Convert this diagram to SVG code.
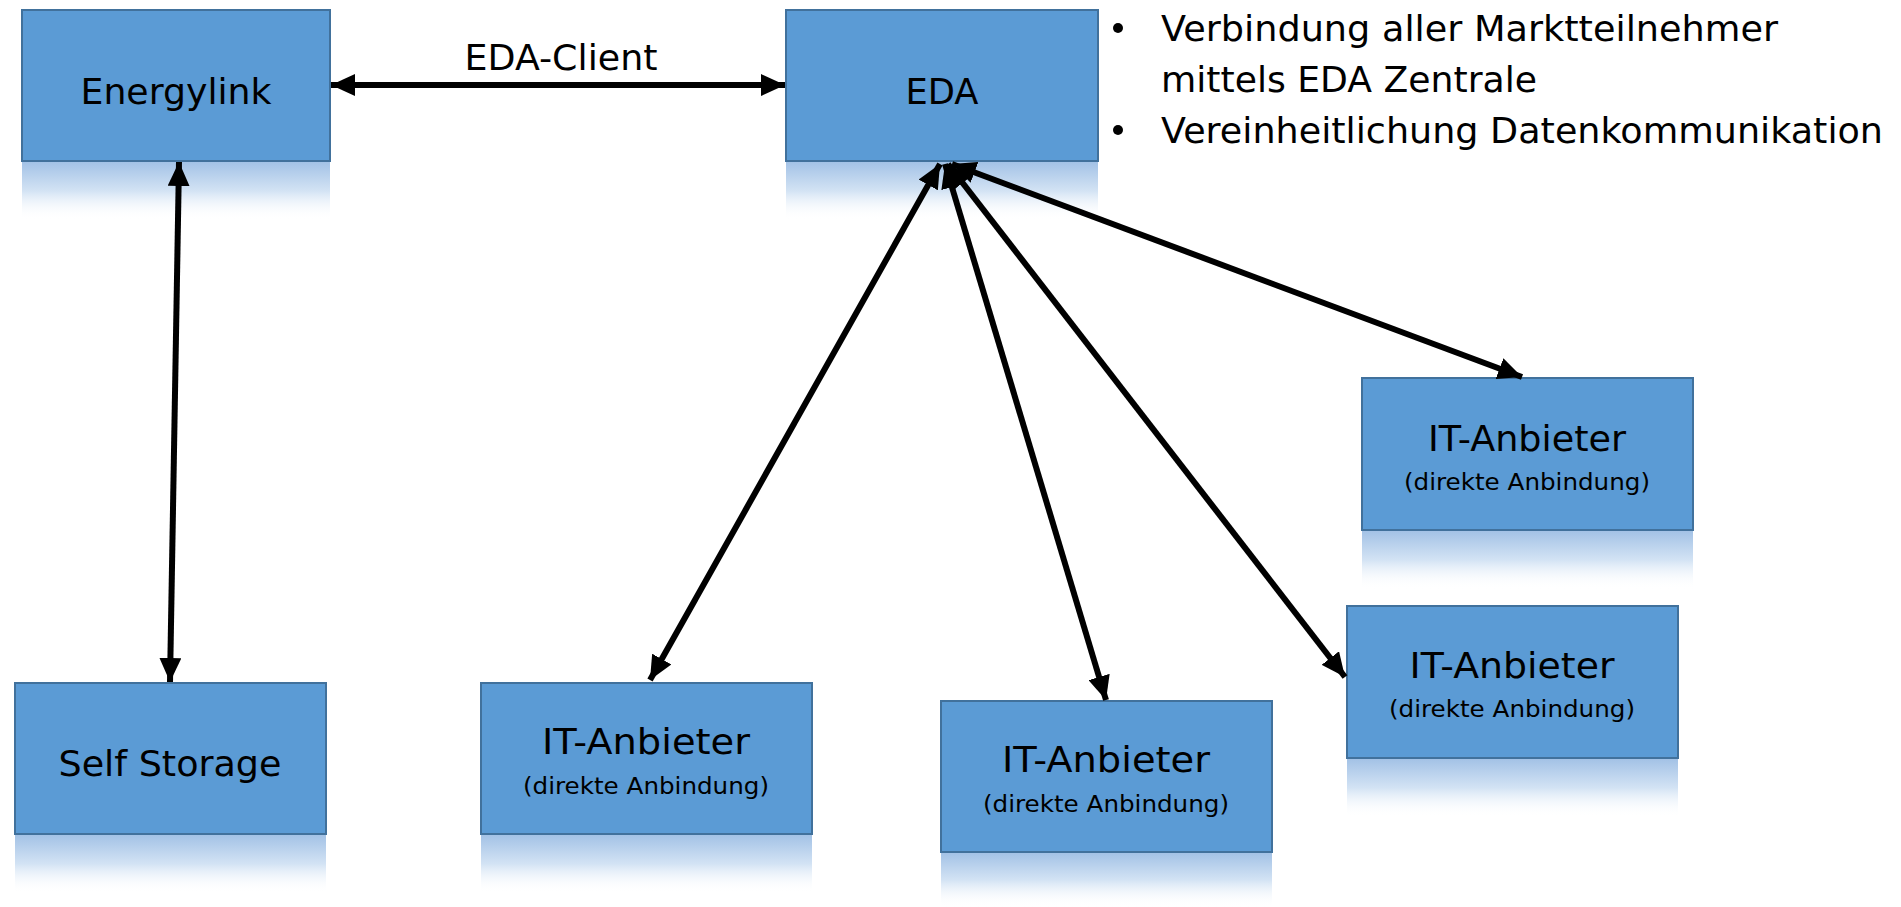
<svg xmlns="http://www.w3.org/2000/svg" width="1901" height="907" viewBox="0 0 1901 907">
<style>
.box{fill:#5B9BD5;stroke:#41719C;stroke-width:2}
.refl{fill:url(#rg)}
.t{font-family:"DejaVu Sans","Liberation Sans",sans-serif;fill:#000}
.big{font-size:36px}
.sub{font-size:23px}
.con{stroke:#000;stroke-width:6;fill:none;marker-start:url(#ah);marker-end:url(#ah)}
</style>
<defs>
<linearGradient id="rg" x1="0" y1="0" x2="0" y2="1">
<stop offset="0" stop-color="#A3C2E6"/>
<stop offset="0.5" stop-color="#D3E3F4"/>
<stop offset="1" stop-color="#FFFFFF" stop-opacity="0"/>
</linearGradient>
<marker id="ah" markerUnits="userSpaceOnUse" markerWidth="26" markerHeight="22" refX="24" refY="11" orient="auto-start-reverse" viewBox="0 0 26 22">
<path d="M0,0 L24,11 L0,22 z" fill="#000"/>
</marker>
</defs>
<rect width="1901" height="907" fill="#fff"/>

<g id="energylink">
<rect class="refl" x="22" y="162" width="308" height="58"/>
<rect class="box" x="22" y="10" width="308" height="151"/>
<text class="t big" x="176" y="104" text-anchor="middle" textLength="191" lengthAdjust="spacingAndGlyphs">Energylink</text>
</g>

<g id="eda">
<rect class="refl" x="786" y="162" width="312" height="58"/>
<rect class="box" x="786" y="10" width="312" height="151"/>
<text class="t big" x="942" y="104" text-anchor="middle" textLength="73" lengthAdjust="spacingAndGlyphs">EDA</text>
</g>

<g id="self-storage">
<rect class="refl" x="15" y="835" width="311" height="58"/>
<rect class="box" x="15" y="683" width="311" height="151"/>
<text class="t big" x="170" y="776" text-anchor="middle" textLength="223" lengthAdjust="spacingAndGlyphs">Self Storage</text>
</g>

<g id="it1">
<rect class="refl" x="481" y="835" width="331" height="58"/>
<rect class="box" x="481" y="683" width="331" height="151"/>
<text class="t big" x="646" y="754" text-anchor="middle" textLength="208" lengthAdjust="spacingAndGlyphs">IT-Anbieter</text>
<text class="t sub" x="646" y="794" text-anchor="middle" textLength="246" lengthAdjust="spacingAndGlyphs">(direkte Anbindung)</text>
</g>

<g id="it2">
<rect class="refl" x="941" y="853" width="331" height="54"/>
<rect class="box" x="941" y="701" width="331" height="151"/>
<text class="t big" x="1106" y="772" text-anchor="middle" textLength="208" lengthAdjust="spacingAndGlyphs">IT-Anbieter</text>
<text class="t sub" x="1106" y="812" text-anchor="middle" textLength="246" lengthAdjust="spacingAndGlyphs">(direkte Anbindung)</text>
</g>

<g id="it3">
<rect class="refl" x="1347" y="759" width="331" height="58"/>
<rect class="box" x="1347" y="606" width="331" height="152"/>
<text class="t big" x="1512" y="678" text-anchor="middle" textLength="205" lengthAdjust="spacingAndGlyphs">IT-Anbieter</text>
<text class="t sub" x="1512" y="717" text-anchor="middle" textLength="246" lengthAdjust="spacingAndGlyphs">(direkte Anbindung)</text>
</g>

<g id="it4">
<rect class="refl" x="1362" y="531" width="331" height="58"/>
<rect class="box" x="1362" y="378" width="331" height="152"/>
<text class="t big" x="1527" y="451" text-anchor="middle" textLength="198" lengthAdjust="spacingAndGlyphs">IT-Anbieter</text>
<text class="t sub" x="1527" y="490" text-anchor="middle" textLength="246" lengthAdjust="spacingAndGlyphs">(direkte Anbindung)</text>
</g>

<g id="bullets">
<circle cx="1118" cy="28" r="5" fill="#000"/>
<circle cx="1118" cy="130" r="5" fill="#000"/>
<text class="t big" x="1161" y="41" textLength="617" lengthAdjust="spacingAndGlyphs">Verbindung aller Marktteilnehmer</text>
<text class="t big" x="1161" y="92" textLength="376" lengthAdjust="spacingAndGlyphs">mittels EDA Zentrale</text>
<text class="t big" x="1161" y="143" textLength="722" lengthAdjust="spacingAndGlyphs">Vereinheitlichung Datenkommunikation</text>
</g>

<g id="connectors">
<line class="con" x1="331" y1="85" x2="785" y2="85"/>
<text class="t big" x="561" y="70" text-anchor="middle" textLength="193" lengthAdjust="spacingAndGlyphs">EDA-Client</text>
<line class="con" x1="179" y1="162" x2="170" y2="682"/>
<line class="con" x1="940" y1="164" x2="650" y2="680"/>
<line class="con" x1="945" y1="164" x2="1106" y2="700"/>
<line class="con" x1="948" y1="164" x2="1345" y2="677"/>
<line class="con" x1="952" y1="164" x2="1522" y2="377"/>
</g>
</svg>
